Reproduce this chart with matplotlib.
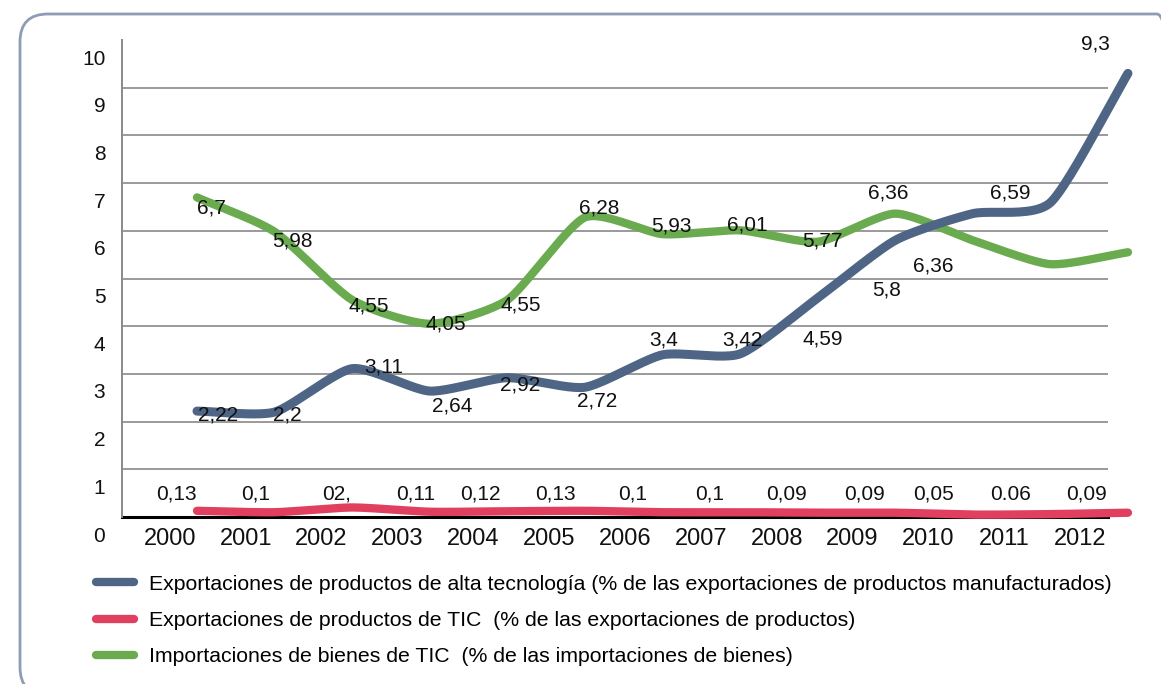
import numpy as np
import matplotlib
matplotlib.use("Agg")
import matplotlib.pyplot as plt
import matplotlib.transforms as mtransforms
from matplotlib.patches import FancyBboxPatch
from matplotlib.lines import Line2D

plt.rcParams['font.family'] = ['Liberation Sans', 'DejaVu Sans']

# Datos
anios = ["2000", "2001", "2002", "2003", "2004", "2005", "2006",
         "2007", "2008", "2009", "2010", "2011", "2012"]
alta_tec = [2.22, 2.2, 3.11, 2.64, 2.92, 2.72, 3.4, 3.42, 4.59, 5.8, 6.36, 6.59, 9.3]
tic_export = [0.13, 0.1, 0.2, 0.11, 0.12, 0.13, 0.1, 0.1, 0.09, 0.09, 0.05, 0.06, 0.09]
tic_import = [6.7, 5.98, 4.55, 4.05, 4.55, 6.28, 5.93, 6.01, 5.77, 6.36, 5.8, 5.3, 5.55]

# Etiquetas tal como aparecen en el gráfico
lab_alta = ["2,22", "2,2", "3,11", "2,64", "2,92", "2,72", "3,4", "3,42", "4,59",
            "5,8", "6,36", "6,59", "9,3"]
lab_exp = ["0,13", "0,1", "02,", "0,11", "0,12", "0,13", "0,1", "0,1", "0,09",
           "0,09", "0,05", "0.06", "0,09"]
lab_imp = ["6,7", "5,98", "4,55", "4,05", "4,55", "6,28", "5,93", "6,01", "5,77", "6,36"]

# desplazamientos de etiquetas (pixeles, dx, dy hacia arriba)
off_alta = [(21, -4), (13, -3), (32, 2), (22, -15), (13, -7), (12, -14), (1, 15),
            (2, 14), (5, -41), (-9, -50), (-40, -52), (-40, 10), (-33, 29)]
off_imp = [(14, -11), (18, -9), (17, -6), (16, 0), (13, -5), (14, 9), (9, 8),
           (7, 5), (5, 1), (-7, 21)]
off_exp_dx = [-21, -19, -16, -14, -27, -29, -30, -30, -31, -31, -39, -40, -41]

c_blue = "#4e6586"
c_red = "#e13f5f"
c_green = "#6aab4f"


def smooth(x, y, n=24, c=0.35):
    # Cardinal-Spline nur zum Zeichnen
    x = np.asarray(x, float)
    y = np.asarray(y, float)
    mx = np.gradient(x) * (1 - c)
    my = np.zeros_like(y)
    my[1:-1] = (y[2:] - y[:-2]) / 2 * (1 - c)
    my[0] = (y[1] - y[0]) * (1 - c)
    my[-1] = (y[-1] - y[-2]) * (1 - c)
    t = np.linspace(0, 1, n, endpoint=False)
    h00 = 2 * t ** 3 - 3 * t ** 2 + 1
    h10 = t ** 3 - 2 * t ** 2 + t
    h01 = -2 * t ** 3 + 3 * t ** 2
    h11 = t ** 3 - t ** 2
    xs, ys = [], []
    for i in range(len(x) - 1):
        xs.extend(h00 * x[i] + h10 * mx[i] + h01 * x[i + 1] + h11 * mx[i + 1])
        ys.extend(h00 * y[i] + h10 * my[i] + h01 * y[i + 1] + h11 * my[i + 1])
    xs.append(x[-1])
    ys.append(y[-1])
    return np.array(xs), np.array(ys)


fig = plt.figure(figsize=(11.61, 6.84), dpi=100)

# Rahmen
frame = FancyBboxPatch((20 / 1161, (684 - 695) / 684), 1165 / 1161, 681 / 684,
                       boxstyle="round,pad=0,rounding_size=0.024",
                       transform=fig.transFigure, fill=False,
                       edgecolor="#8e9db5", linewidth=2, clip_on=False,
                       mutation_aspect=1161 / 684)
fig.patches.append(frame)

ax = fig.add_axes([122 / 1161, 167 / 684, 986 / 1161, 477 / 684])
ax.set_xlim(-0.5, 12.5)
ax.set_ylim(0, 10)

ax.set_yticks(range(0, 11))
ax.set_yticklabels([str(v) for v in range(0, 11)], fontsize=15, color="#111111")
ax.set_xticks(range(len(anios)))
ax.set_xticklabels(anios, fontsize=17, color="#111111")
ax.tick_params(axis="both", length=0)
ax.tick_params(axis="y", pad=12)
ax.tick_params(axis="x", pad=8)

for lbl in ax.get_yticklabels():
    lbl.set_transform(lbl.get_transform() + mtransforms.ScaledTranslation(0, -17 / 100, fig.dpi_scale_trans))
for lbl in ax.get_xticklabels():
    lbl.set_transform(lbl.get_transform() + mtransforms.ScaledTranslation(10 / 100, 0, fig.dpi_scale_trans))

for v in range(1, 10):
    ax.axhline(v, color="#9a9a9a", linewidth=1.4, zorder=1)

for s in ["top", "right"]:
    ax.spines[s].set_visible(False)
ax.spines["left"].set_color("#8a8a8a")
ax.spines["left"].set_linewidth(1.4)
ax.spines["bottom"].set_color("black")
ax.spines["bottom"].set_linewidth(2.2)
ax.spines["bottom"].set_zorder(2)

x = np.linspace(0.489, 12.763, 13)

for serie, col, lw in ((tic_import, c_green, 6), (alta_tec, c_blue, 6.5), (tic_export, c_red, 6)):
    sx, sy = smooth(x, serie)
    ax.plot(sx, sy, color=col, linewidth=lw, solid_capstyle="round", clip_on=False, zorder=3)

for i, t in enumerate(lab_alta):
    ax.annotate(t, (x[i], alta_tec[i]), xytext=(off_alta[i][0] * 0.72, off_alta[i][1] * 0.72),
                textcoords="offset points", ha="center", va="center", fontsize=15,
                color="#111111", zorder=5, annotation_clip=False)
for i, t in enumerate(lab_imp):
    ax.annotate(t, (x[i], tic_import[i]), xytext=(off_imp[i][0] * 0.72, off_imp[i][1] * 0.72),
                textcoords="offset points", ha="center", va="center", fontsize=15,
                color="#111111", zorder=5, annotation_clip=False)
for i, t in enumerate(lab_exp):
    ax.annotate(t, (x[i], 0), xytext=(off_exp_dx[i] * 0.72, 23 * 0.72),
                textcoords="offset points", ha="center", va="center", fontsize=15,
                color="#111111", zorder=5, annotation_clip=False)

# Legende
handles = [Line2D([0], [0], color=c_blue, linewidth=6, solid_capstyle="round"),
           Line2D([0], [0], color=c_red, linewidth=6, solid_capstyle="round"),
           Line2D([0], [0], color=c_green, linewidth=6, solid_capstyle="round")]
names = ["Exportaciones de productos de alta tecnología (% de las exportaciones de productos manufacturados)",
         "Exportaciones de productos de TIC  (% de las exportaciones de productos)",
         "Importaciones de bienes de TIC  (% de las importaciones de bienes)"]
fig.legend(handles, names, loc="upper left", bbox_to_anchor=(85 / 1161, 1 - 564 / 684),
           frameon=False, fontsize=15.3, handlelength=1.8, handletextpad=0.7,
           labelspacing=0.82, borderpad=0)

fig.savefig("out.png", dpi=100)
